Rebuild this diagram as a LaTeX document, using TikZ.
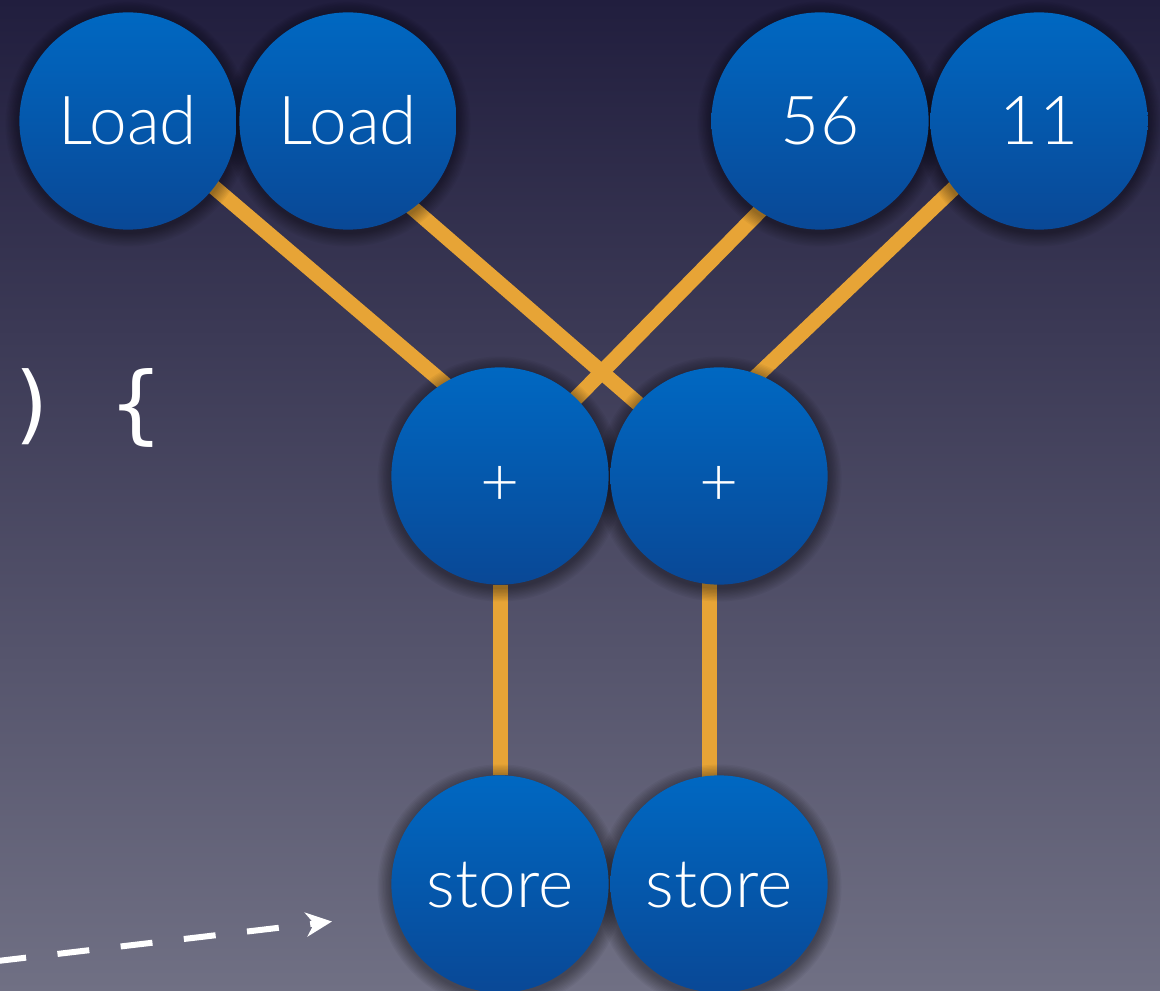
\documentclass[tikz,border=0pt]{standalone}
\usepackage{fontspec}
\newfontfamily\lightfont{Lato Light}
\newfontfamily\monofont{DejaVu Sans Mono}
\usetikzlibrary{calc,arrows.meta}
\pgfdeclarelayer{back}
\pgfdeclarelayer{wires}
\pgfdeclarelayer{shadows}
\pgfsetlayers{back,wires,shadows,main}
\definecolor{bgtop}{RGB}{33,30,62}
\definecolor{bgbot}{RGB}{112,112,132}
\definecolor{bluetop}{RGB}{0,104,194}
\definecolor{bluebot}{RGB}{9,72,150}
\definecolor{wire}{RGB}{231,164,54}
\tikzset{
  bub/.style={circle, minimum size=5.43cm, inner sep=0pt, top color=bluetop, bottom color=bluebot,
    text=white, font=\lightfont\fontsize{48}{56}\selectfont, text height=34pt, text depth=0pt},
  wireline/.style={draw=wire, line width=0.375cm},
  codetext/.style={text=white, inner sep=0pt, anchor=base west, font=\monofont\fontsize{60.85}{70}\selectfont},
  dasharrow/.style={white, line width=0.15cm, dash pattern=on 0.8cm off 0.79cm,
    -{Stealth[length=0.65cm, width=0.6cm, inset=0.2cm]}}
}
\begin{document}
\begin{tikzpicture}[x=0.025cm,y=-0.025cm]
\useasboundingbox (0,0) rectangle (1160,991);
\begin{pgfonlayer}{back}
\shade[top color=bgtop, bottom color=bgbot] (0,0) rectangle (1160,991);
\end{pgfonlayer}

\node[bub] (l1) at (128,121) {Load};
\node[bub] (l2) at (348,121) {Load};
\node[bub] (c56) at (820,121) {56};
\node[bub] (c11) at (1039,121) {11};
\node[bub] (p1) at (500,476) {\raisebox{-0.15cm}{+}};
\node[bub] (p2) at (719,476) {\raisebox{-0.15cm}{+}};
\node[bub] (s1) at (500,884) {store};
\node[bub] (s2) at (719,884) {store};

\node[codetext] (code) at (-44,434) {s) \{};

\coordinate (ds) at (-5.7,961.4);
\coordinate (de) at (332,921.5);
\draw[dasharrow] (ds) -- (de);

\begin{pgfonlayer}{wires}
\draw[wireline] ($(l1)+(0,-7)$) -- ($(p1)+(-20,-62)$);
\draw[wireline] ($(l2)+(0,31)$) -- ($(p2)+(-39,-36)$);
\draw[wireline] ($(c56)+(0,29)$) -- ($(p1)+(40,-41)$);
\draw[wireline] ($(c11)+(0,-14)$) -- ($(p2)+(21,-84)$);
\draw[wireline] (p1) -- (s1);
\draw[wireline] ($(p2)+(-9.5,0)$) -- ($(s2)+(-9.5,0)$);
\end{pgfonlayer}

\begin{pgfonlayer}{shadows}
\foreach \n in {l1,l2,c56,c11,p1,p2,s1,s2}{
  \foreach \k in {1,...,10}{
    \pgfmathsetmacro\rr{(108.5+1.4*\k)*0.025}
    \fill[black, opacity=0.04] ($(\n)+(0,3)$) circle[radius=\rr cm];
  }
}
\end{pgfonlayer}
\end{tikzpicture}
\end{document}
